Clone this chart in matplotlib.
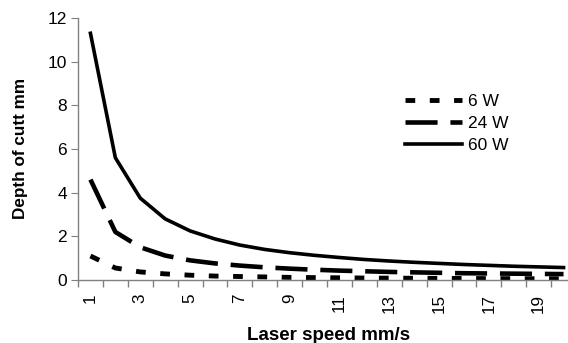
import matplotlib
matplotlib.use("Agg")
import matplotlib.pyplot as plt
import numpy as np

plt.rcParams['font.family'] = ['Liberation Sans', 'DejaVu Sans']

speed = list(range(1, 21))
w6 = [1.1, 0.55, 0.37, 0.28, 0.22, 0.18, 0.16, 0.14, 0.12, 0.11,
      0.10, 0.09, 0.085, 0.08, 0.075, 0.07, 0.065, 0.06, 0.058, 0.055]
w24 = [4.6, 2.2, 1.5, 1.12, 0.9, 0.76, 0.66, 0.58, 0.52, 0.47,
       0.43, 0.40, 0.37, 0.35, 0.33, 0.31, 0.30, 0.29, 0.28, 0.27]
w60 = [11.3, 5.6, 3.75, 2.8, 2.25, 1.88, 1.6, 1.4, 1.25, 1.13,
       1.03, 0.94, 0.87, 0.81, 0.76, 0.71, 0.67, 0.63, 0.6, 0.57]
xticklabels = [str(v) for v in range(1, 21, 2)]

fig = plt.figure(figsize=(5.68, 3.43), dpi=100)
ax = fig.add_axes([78 / 568, 1 - 280 / 343, 498 / 568, 262 / 343])

ax.plot(speed, w6, color='black', lw=3.5, linestyle=(0, (2, 3)), label='6 W',
        dash_capstyle='butt')
ax.plot(speed, w24, color='black', lw=3.3, linestyle=(0, (7, 2.8)), label='24 W',
        dash_capstyle='butt')
ax.plot(speed, w60, color='black', lw=2.6, linestyle='-', label='60 W')

ax.set_xlim(0.5, 20.5)
ax.set_ylim(0, 12)
ax.set_yticks(range(0, 13, 2))
ax.set_xticks(range(1, 21, 2))
ax.set_xticklabels(xticklabels, rotation=90)
ax.set_xticks(np.arange(0.5, 21, 1), minor=True)
ax.tick_params(axis='x', which='major', length=0, pad=10, labelsize=12.3)
ax.tick_params(axis='x', which='minor', length=5, direction='out', color='#808080', width=1)
ax.tick_params(axis='y', length=5, direction='out', color='#808080', labelsize=12.5, pad=3)

for s in ['top', 'right']:
    ax.spines[s].set_visible(False)
for s in ['left', 'bottom']:
    ax.spines[s].set_color('#808080')
    ax.spines[s].set_linewidth(1)

ax.set_ylabel('Depth of cutt mm', fontweight='bold', fontsize=12.3)
ax.set_xlabel('Laser speed mm/s', fontweight='bold', fontsize=13.5)
ax.yaxis.set_label_coords(-0.1, 0.504)
ax.xaxis.set_label_coords(0.503, -0.178)

leg = ax.legend(loc='center left', bbox_to_anchor=(0.657, 0.598), frameon=False,
                fontsize=12.5, handlelength=3.3, handletextpad=0.3, labelspacing=0.4,
                borderpad=0, borderaxespad=0)

fig.savefig('out.png', dpi=100)
